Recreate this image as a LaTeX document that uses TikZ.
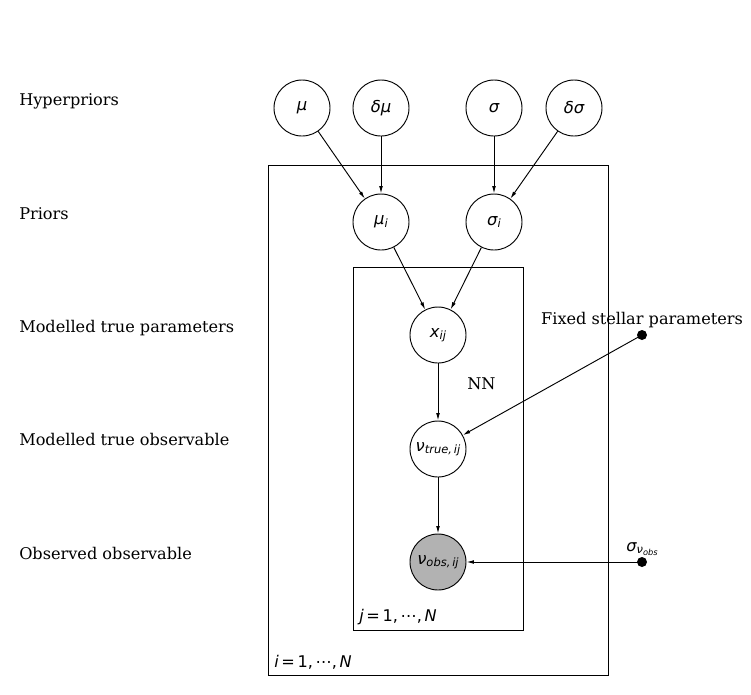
\documentclass[tikz,border=0pt]{standalone}
\usepackage{fontspec}
\setmainfont{DejaVu Serif}
\newfontfamily\mf{DejaVu Sans}
\usetikzlibrary{arrows.meta}
\newcommand{\mi}[1]{{\mf\itshape #1}}
\newcommand{\mup}[1]{{\mf #1}}
\newcommand{\subs}[1]{\raisebox{-0.3ex}{\fontsize{8.6}{9}\selectfont\mf\itshape #1}}
\newcommand{\subsub}[1]{\raisebox{-0.25ex}{\fontsize{6.2}{7}\selectfont\mf\itshape #1}}
\begin{document}
\begin{tikzpicture}[x=0.75pt,y=-0.75pt,
  txt/.style={font=\fontsize{12.1}{14}\selectfont, inner sep=0pt},
  lbl/.style={txt, anchor=base west},
  rv/.style={circle, draw, line width=0.7pt, minimum size=42pt, inner sep=0pt, font=\fontsize{12.3}{14}\selectfont},
  obs/.style={rv, fill=black!30},
  fixd/.style={circle, fill=black, minimum size=7.5pt, inner sep=0pt},
  edge/.style={line width=0.7pt, -{Latex[length=5.5pt,width=2.8pt]}},
  plate/.style={draw, line width=0.7pt}]
\useasboundingbox (0,0) rectangle (751,694);
% plates
\draw[plate] (268,165) rectangle (608,675);
\draw[plate] (353,267) rectangle (523,630);
% row labels
\node[lbl] (l1) at (19,105) {Hyperpriors};
\node[lbl] (l2) at (19,219) {Priors};
\node[lbl] (l3) at (19,332) {Modelled true parameters};
\node[lbl] (l4) at (19,445) {Modelled true observable};
\node[lbl] (l5) at (19,559) {Observed observable};
% nodes
\node[rv] (mu) at (302,108) {\mi{μ}};
\node[rv] (dmu) at (381,108) {\mi{δμ}};
\node[rv] (sig) at (494,108) {\mi{σ}};
\node[rv] (dsig) at (574,108) {\mi{δσ}};
\node[rv] (mui) at (381,222) {\mi{μ}\subs{i}};
\node[rv] (sigi) at (494,222) {\mi{σ}\subs{i}};
\node[rv] (x) at (438,335) {\mi{x}\subs{ij}};
\node[rv] (nut) at (438,449) {\mi{ν}\subs{true,\,ij}};
\node[obs] (nuo) at (438,562) {\mi{ν}\subs{obs,\,ij}};
\node[fixd] (fsp) at (642,335) {};
\node[fixd] (sno) at (642,562) {};
\node[txt, anchor=base] (fspl) at (642,324) {Fixed stellar parameters};
\node[txt, anchor=base] (snol) at (642,551) {\mi{σ}\raisebox{-0.3ex}{\fontsize{8.6}{9}\selectfont\mf\itshape ν\subsub{obs}}};
\node[lbl] (nn) at (467,389) {NN};
\node[lbl] (jl) at (359,621) {\mi{j}\,\mup{=}\,\mup{1,\,⋯,\,}\mi{N}};
\node[lbl] (il) at (274,667) {\mi{i}\,\mup{=}\,\mup{1,\,⋯,\,}\mi{N}};
% edges
\draw[edge] (mu) -- (mui);
\draw[edge] (dmu) -- (mui);
\draw[edge] (sig) -- (sigi);
\draw[edge] (dsig) -- (sigi);
\draw[edge] (mui) -- (x);
\draw[edge] (sigi) -- (x);
\draw[edge] (x) -- (nut);
\draw[edge] (nut) -- (nuo);
\draw[edge] (fsp.center) -- (nut);
\draw[edge] (sno.center) -- (nuo);
\end{tikzpicture}
\end{document}
